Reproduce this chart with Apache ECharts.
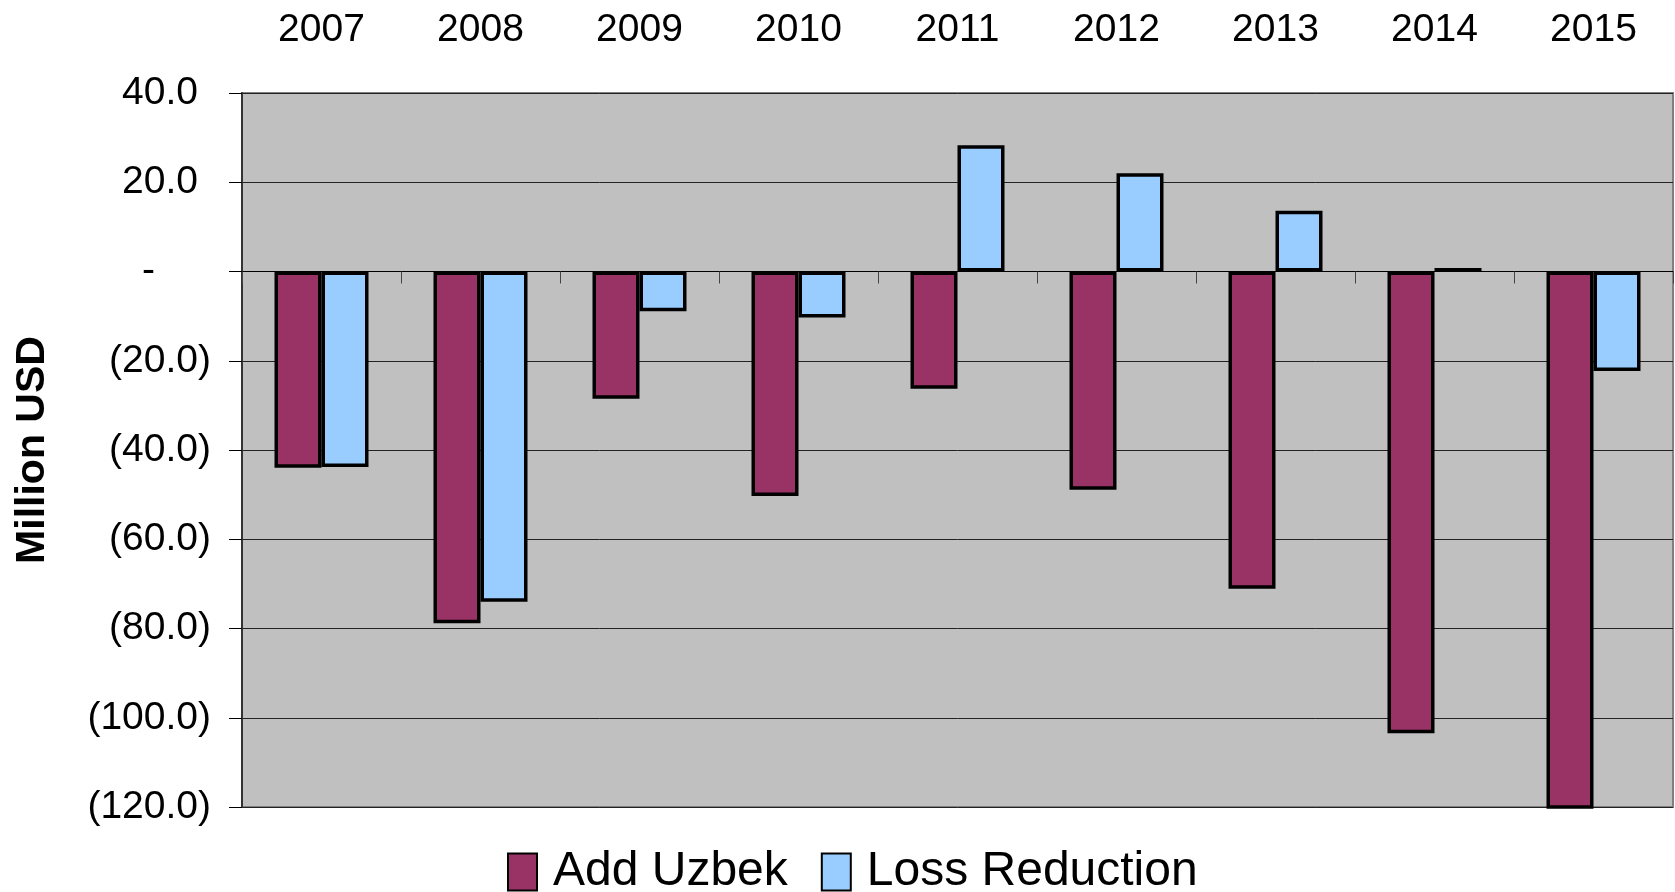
<!DOCTYPE html>
<html>
<head>
<meta charset="utf-8">
<script src="https://cdn.jsdelivr.net/npm/echarts@6/dist/echarts.min.js"></script>
<style>
html,body{margin:0;padding:0;background:#fff;}
#c{width:1675px;height:892px;}
</style>
</head>
<body>
<div id="c"></div>
<script>
const categories = ['2007','2008','2009','2010','2011','2012','2013','2014','2015'];
const addUzbek = [-44.0, -78.8, -28.5, -50.3, -26.3, -48.9, -71.1, -103.5, -125.0];
const lossReduction = [-43.8, -74.0, -8.9, -10.3, 28.3, 22.0, 13.6, 0.8, -22.3];
const seriesNames = ['Add Uzbek', 'Loss Reduction'];
const yTicks = {min: -120, max: 40, interval: 20};
const axisTitle = 'Million USD';

const FONT = '"Liberation Sans", Arial, sans-serif';
const chart = echarts.init(document.getElementById('c'));

function fmtY(v) {
  if (v === 0) return '{z|-}';
  const s = Math.abs(v).toFixed(1);
  return v < 0 ? '{n|(' + s + ')}' : '{p|' + s + '}';
}

chart.setOption({
  animation: false,
  backgroundColor: '#ffffff',
  textStyle: {fontFamily: FONT},
  grid: {
    left: 242, right: 2, top: 93, bottom: 85,
    show: true, backgroundColor: '#C0C0C0',
    borderColor: '#808080', borderWidth: 2
  },
  legend: {
    left: 502, top: 843,
    itemWidth: 29, itemHeight: 37, itemGap: 33,
    data: seriesNames,
    icon: 'rect',
    itemStyle: {borderColor: '#000', borderWidth: 2},
    textStyle: {fontSize: 48, lineHeight: 44, color: '#000', fontFamily: FONT, padding: [0, 0, 0, 11]}
  },
  xAxis: [
    {
      type: 'category', data: categories, position: 'top',
      axisLine: {show: false, onZero: false}, axisTick: {show: false},
      axisLabel: {fontSize: 39, color: '#000', margin: 43, fontFamily: FONT},
      splitLine: {show: false}
    },
    {
      type: 'category', data: categories, position: 'bottom',
      axisLine: {show: true, onZero: true, lineStyle: {color: '#000', width: 1}},
      axisTick: {show: true, length: 12, lineStyle: {color: '#444', width: 1}},
      axisLabel: {show: false},
      splitLine: {show: false}
    }
  ],
  yAxis: {
    type: 'value', min: yTicks.min, max: yTicks.max, interval: yTicks.interval,
    name: axisTitle, nameLocation: 'middle', nameGap: 189, nameRotate: 90,
    nameTextStyle: {fontSize: 41, fontWeight: 'bold', color: '#000', fontFamily: FONT},
    axisLine: {show: true, lineStyle: {color: '#333', width: 2}},
    axisTick: {show: true, length: 13, lineStyle: {color: '#000', width: 1}},
    axisLabel: {
      fontSize: 39, color: '#000', margin: 31, fontFamily: FONT,
      formatter: fmtY,
      rich: {
        n: {fontSize: 39, color: '#000', fontFamily: FONT},
        p: {fontSize: 39, color: '#000', fontFamily: FONT, padding: [0, 13, 0, 0]},
        z: {fontSize: 39, color: '#000', fontFamily: FONT, padding: [0, 56, 0, 0]}
      }
    },
    splitLine: {show: true, lineStyle: {color: '#222', width: 1}}
  },
  series: [
    {
      name: seriesNames[0], type: 'bar', xAxisIndex: 1, data: addUzbek,
      barWidth: 47, barGap: '0%',
      itemStyle: {color: '#993366', borderColor: '#000', borderWidth: 3.5}
    },
    {
      name: seriesNames[1], type: 'bar', xAxisIndex: 1, data: lossReduction,
      barWidth: 47, barGap: '0%',
      itemStyle: {color: '#99CCFF', borderColor: '#000', borderWidth: 3.5}
    }
  ]
});
</script>
</body>
</html>
